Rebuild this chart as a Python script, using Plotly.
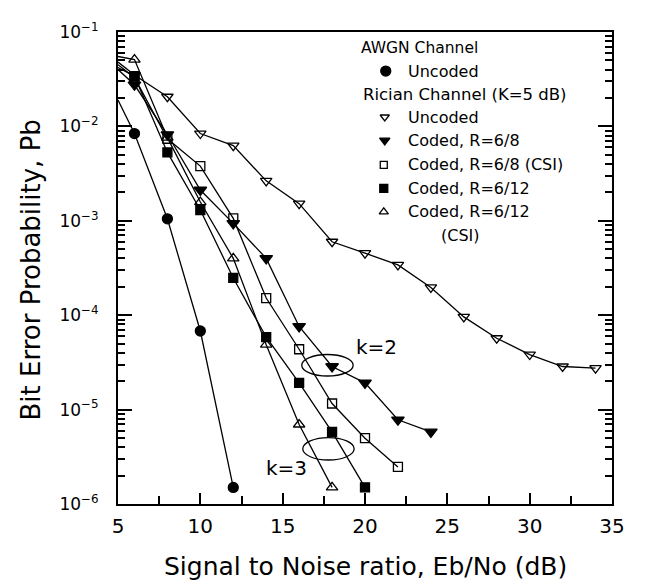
import plotly.graph_objects as go

# ---------------- data ----------------
snr_awgn = [5, 6, 8, 10, 12]
pb_awgn_uncoded = [1.9e-2, 8.4e-3, 1.05e-3, 6.8e-5, 1.5e-6]

snr_rician_uncoded = [5, 6, 8, 10, 12, 14, 16, 18, 20, 22, 24, 26, 28, 30, 32, 34]
pb_rician_uncoded = [4.8e-2, 3.5e-2, 2.06e-2, 8.4e-3, 6.25e-3, 2.65e-3, 1.52e-3, 6.0e-4,
                     4.54e-4, 3.41e-4, 1.97e-4, 9.6e-5, 5.7e-5, 3.83e-5, 2.86e-5, 2.75e-5]

snr_r68 = [5, 6, 8, 10, 12, 14, 16, 18, 20, 22, 24]
pb_r68 = [4.0e-2, 2.76e-2, 8.2e-3, 2.12e-3, 9.4e-4, 4.0e-4, 7.6e-5, 2.86e-5, 1.92e-5, 7.8e-6, 5.8e-6]

snr_r68_csi = [5, 6, 8, 10, 12, 14, 16, 18, 20, 22]
pb_r68_csi = [4.5e-2, 3.3e-2, 7.4e-3, 3.8e-3, 1.06e-3, 1.52e-4, 4.36e-5, 1.16e-5, 4.98e-6, 2.47e-6]

snr_r612 = [5, 6, 8, 10, 12, 14, 16, 18, 20]
pb_r612 = [4.2e-2, 3.4e-2, 5.3e-3, 1.3e-3, 2.48e-4, 5.85e-5, 1.92e-5, 5.8e-6, 1.5e-6]

snr_r612_csi = [5, 6, 8, 10, 12, 14, 16, 18]
pb_r612_csi = [5.5e-2, 5.1e-2, 7.6e-3, 1.58e-3, 4.0e-4, 4.87e-5, 6.95e-6, 1.5e-6]

x_tickvals = [5, 10, 15, 20, 25, 30, 35]
y_tickvals = [1e-1, 1e-2, 1e-3, 1e-4, 1e-5, 1e-6]
y_ticktext = ["10<sup>−1</sup>", "10<sup>−2</sup>", "10<sup>−3</sup>",
              "10<sup>−4</sup>", "10<sup>−5</sup>", "10<sup>−6</sup>"]

legend_labels = ["Uncoded", "Uncoded", "Coded, R=6/8", "Coded, R=6/8 (CSI)",
                 "Coded, R=6/12", "Coded, R=6/12"]

FONT = "DejaVu Sans"
INK = "black"

# plot area in window pixels (page body has an 8px margin)
PAD = 8
W, H = 645 - 2 * PAD, 588 - 2 * PAD
L, R, T, B = 118, 618, 21, 504

series = [
    (snr_awgn, pb_awgn_uncoded, "circle", 10),
    (snr_rician_uncoded, pb_rician_uncoded, "triangle-down-open", 10),
    (snr_r68, pb_r68, "triangle-down", 11),
    (snr_r68_csi, pb_r68_csi, "square-open", 9),
    (snr_r612, pb_r612, "square", 9),
    (snr_r612_csi, pb_r612_csi, "triangle-up-open", 10),
]

fig = go.Figure()
for xs, ys, sym, sz in series:
    sizes = [0 if x == 5 else sz for x in xs]
    fig.add_trace(go.Scatter(
        x=xs, y=ys, mode="lines+markers",
        line=dict(color=INK, width=1.3),
        marker=dict(symbol=sym, size=sizes, color=INK, opacity=1,
                    line=dict(color=INK, width=1.3)),
        showlegend=False, cliponaxis=False,
    ))

# ---- legend markers on a hidden pixel-like overlay axis ----
leg_sym = ["circle", "triangle-down-open", "triangle-down", "square-open", "square", "triangle-up-open"]
leg_size = [10, 8, 9, 7, 8, 8]
leg_x = [389, 388, 388, 387, 387, 387]
leg_y = [61, 108, 132, 157, 181, 205]
fig.add_trace(go.Scatter(
    x=leg_x, y=leg_y, xaxis="x2", yaxis="y2", mode="markers",
    marker=dict(symbol=leg_sym, size=leg_size, color=INK, opacity=1,
                line=dict(color=INK, width=1.3)),
    showlegend=False, hoverinfo="skip",
))

annots = []
def txt(x, y, s, size=15, anchor="left", angle=0):
    annots.append(dict(x=(x - L) / (R - L), y=(B - y) / (B - T), xref="paper", yref="paper",
                       text=s, showarrow=False,
                       xanchor=anchor, yanchor="middle", textangle=angle,
                       font=dict(family=FONT, size=size, color=INK)))

txt(362, 37, "AWGN Channel", size=15.5)
txt(364, 85, "Rician Channel (K=5 dB)", size=16.5)
for lbl, yy in zip(legend_labels, leg_y):
    txt(410, yy, lbl, size=16)
txt(443, 229, "(CSI)", size=16)
txt(357, 343, "k=2", size=20)
txt(266, 467, "k=3", size=20)
txt(368, 568, "Signal to Noise ratio, Eb/No (dB)", size=25, anchor="center")
txt(30, 265, "Bit Error Probability, Pb", size=26, anchor="center", angle=-90)

shapes = [
    dict(type="circle", xref="x2", yref="y2", x0=304, x1=356, y0=351, y1=373,
         line=dict(color=INK, width=1.3)),
    dict(type="circle", xref="x2", yref="y2", x0=305, x1=357, y0=436, y1=459,
         line=dict(color=INK, width=1.3)),
]

fig.update_layout(
    width=W, height=H,
    margin=dict(l=L - PAD, r=(645 - PAD) - R, t=T - PAD, b=(588 - PAD) - B),
    paper_bgcolor="white", plot_bgcolor="white",
    font=dict(family=FONT, color=INK),
    annotations=annots, shapes=shapes,
    xaxis=dict(
        range=[5, 35], tickvals=x_tickvals, ticks="inside", ticklen=11, tickwidth=1.5,
        tickcolor=INK, showline=True, linecolor=INK, linewidth=2, mirror=True,
        showgrid=False, zeroline=False, tickfont=dict(size=20, family=FONT, color=INK),
        ticklabelstandoff=3,
        minor=dict(dtick=2.5, tick0=5, ticks="inside", ticklen=8, tickwidth=1.5,
                   tickcolor=INK, showgrid=False),
    ),
    yaxis=dict(
        type="log", range=[-6, -1], tickvals=y_tickvals, ticktext=y_ticktext,
        ticks="inside", ticklen=14, tickwidth=1.5, tickcolor=INK,
        showline=True, linecolor=INK, linewidth=2, mirror="ticks",
        showgrid=False, zeroline=False, tickfont=dict(size=17, family=FONT, color=INK),
        ticklabelstandoff=14,
        minor=dict(dtick="D1", ticks="inside", ticklen=7, tickwidth=1.5,
                   tickcolor=INK, showgrid=False),
    ),
    xaxis2=dict(range=[L, R], overlaying="x", visible=False, domain=[0, 1]),
    yaxis2=dict(range=[B, T], overlaying="y", visible=False, domain=[0, 1]),
)

fig.write_html("out.html")
